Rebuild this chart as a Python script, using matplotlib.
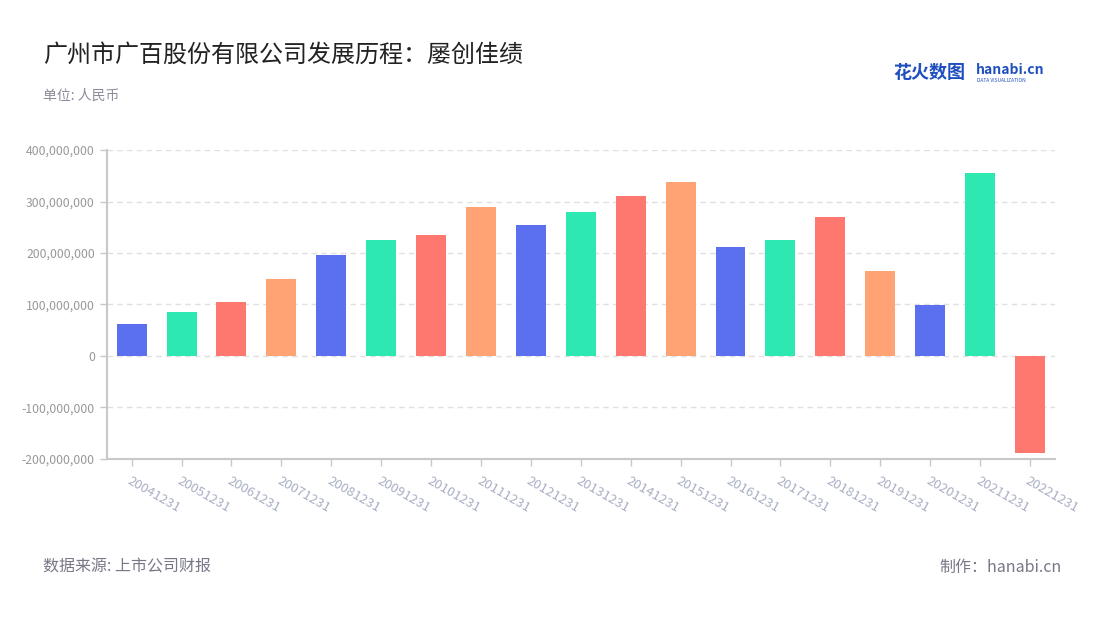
import matplotlib.pyplot as plt
from matplotlib.ticker import FuncFormatter, MultipleLocator

plt.rcParams['font.family'] = ['Noto Sans CJK SC', 'DejaVu Sans']
plt.rcParams['axes.unicode_minus'] = False

DATES = ['20041231', '20051231', '20061231', '20071231', '20081231',
         '20091231', '20101231', '20111231', '20121231', '20131231',
         '20141231', '20151231', '20161231', '20171231', '20181231',
         '20191231', '20201231', '20211231', '20221231']
PROFIT = [62e6, 86e6, 105e6, 150e6, 196e6,
          225e6, 235e6, 289e6, 254e6, 280e6,
          311e6, 338e6, 212e6, 225e6, 270e6,
          165e6, 99e6, 355e6, -188e6]
PALETTE = ['#5a70ee', '#2ee8b1', '#ff7870', '#ffa274']

fig = plt.figure(figsize=(11, 6.2), dpi=100)
ax = fig.add_axes([0.097, 0.26, 0.862, 0.498])

x = range(len(DATES))
colors = [PALETTE[i % 4] for i in x]
ax.bar(x, PROFIT, width=0.6, color=colors, zorder=3)

ax.set_xlim(-0.5, len(DATES) - 0.5)
ax.set_ylim(-200e6, 400e6)
ax.yaxis.set_major_locator(MultipleLocator(100e6))
ax.yaxis.set_major_formatter(FuncFormatter(lambda v, p: f'{v:,.0f}'))
ax.grid(axis='y', color='#e0e0e0', linestyle=(0, (4, 3)), linewidth=1, zorder=0)

ax.set_xticks(list(x))
ax.set_xticklabels(DATES, rotation=-30, ha='left', va='top',
                   rotation_mode='anchor', color='#a8afc4', fontsize=9.5)
ax.tick_params(axis='x', length=5, color='#c8c8c8', width=1, pad=6)
ax.tick_params(axis='y', length=5, color='#c8c8c8', width=1,
               labelcolor='#999999', labelsize=8.8)

for s in ['top', 'right']:
    ax.spines[s].set_visible(False)
for s in ['left', 'bottom']:
    ax.spines[s].set_color('#c8c8c8')
    ax.spines[s].set_linewidth(1.5)

fig.text(43 / 1100, 1 - 55 / 620, '广州市广百股份有限公司发展历程：屡创佳绩',
         fontsize=17.3, color='#222222', va='center', ha='left')
fig.text(43 / 1100, 1 - 96 / 620, '单位: 人民币',
         fontsize=10, color='#8a8a9a', va='center', ha='left')
fig.text(43 / 1100, 1 - 567 / 620, '数据来源: 上市公司财报',
         fontsize=11.5, color='#777788', va='center', ha='left')
fig.text(1062 / 1100, 1 - 567 / 620, '制作：hanabi.cn',
         fontsize=11.5, color='#777788', va='center', ha='right')

# logo
fig.text(893 / 1100, 1 - 72 / 620, '花火数图', fontsize=13, color='#1f4fbf',
         va='center', ha='left', fontweight='bold')
fig.text(976 / 1100, 1 - 70 / 620, 'hanabi.cn', fontsize=10, color='#1f4fbf',
         va='center', ha='left', fontweight='bold')
fig.text(977 / 1100, 1 - 80 / 620, 'DATA VISUALIZATION', fontsize=3.5,
         color='#1f4fbf', va='center', ha='left')

fig.savefig('out.png', dpi=100, facecolor='white')
